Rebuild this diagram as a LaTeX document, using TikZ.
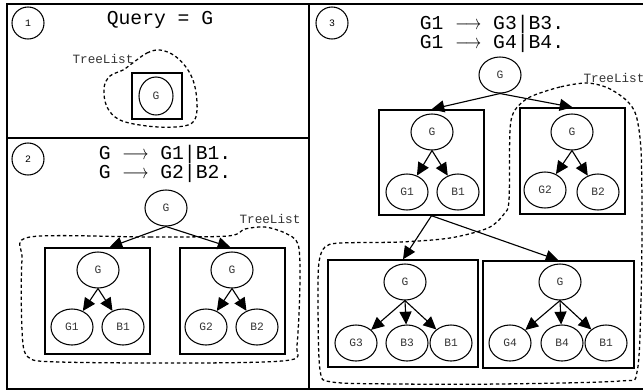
\documentclass[tikz,border=0pt]{standalone}
\usepackage{fontspec}
\setmonofont{Liberation Mono}
\usepackage{graphicx}
\usepackage{tikz}
\usetikzlibrary{shapes.geometric,arrows.meta,positioning,calc}
\newcommand{\yields}{\scalebox{0.8}[1]{$\longrightarrow$}}

\begin{document}
\begin{tikzpicture}[x=0.025cm, y=-0.025cm,
    goal/.style={draw, ellipse, line width=0.75pt, minimum width=1.05cm, minimum height=0.9cm,
        inner sep=0pt, font=\ttfamily\fontsize{8}{8}\selectfont, text=black!80},
    treeBox/.style={draw, line width=1pt, inner sep=0pt},
    stepNum/.style={draw, circle, line width=0.75pt, minimum size=0.8cm, inner sep=0pt,
        font=\ttfamily\fontsize{7}{7}\selectfont},
    ruleText/.style={font=\ttfamily\fontsize{14}{12}\selectfont, align=center},
    derive/.style={-{Triangle[length=0.32cm,width=0.3cm]}, line width=0.8pt},
    treeList/.style={dash pattern=on 2.4pt off 1.9pt, line width=0.9pt},
    listLabel/.style={font=\ttfamily\fontsize{9}{9}\selectfont, text=black!80}]
    \useasboundingbox (0,0) rectangle (643,390);
    \clip (0,0) rectangle (643,390);

    % Frame and panels
    \draw[line width=0.8pt] (660,4) -- (7,4) -- (7,389) -- (660,389);
    \draw[line width=0.8pt] (309,4) -- (309,389);
    \draw[line width=0.8pt] (7,138) -- (309,138);

    % Panel 1: the query
    \node[stepNum] (n1) at (28,23) {1};
    \node[ruleText] (query) at (160,20) {Query = G};
    \node[treeBox, minimum width=1.25cm, minimum height=1.15cm] (box1) at (157,96) {};
    \node[goal, minimum width=0.85cm, minimum height=0.95cm] (g1) at (156,96) {G};
    \node[listLabel] (list1) at (103,59) {TreeList};
    \draw[treeList] plot[smooth cycle, tension=0.6] coordinates {(134,62) (147,53) (160,50)
        (175,56) (188,70) (195,87) (197,110) (192,123) (175,127) (147,126) (120,120)
        (107,107) (104,88) (110,76) (123,70)};

    % Panel 2: G -> G1|B1, G -> G2|B2
    \node[stepNum] (n2) at (28,159) {2};
    \node[ruleText] (rule2) at (165,164) {G \yields{} G1|B1.\\G \yields{} G2|B2.};
    \node[goal] (top2) at (166,208) {G};
    \node[treeBox, minimum width=2.625cm, minimum height=2.65cm] (boxL) at (97.5,301) {};
    \node[treeBox, minimum width=2.625cm, minimum height=2.65cm] (boxR) at (232.5,301) {};
    \node[goal] (gL) at (98,270) {G};
    \node[goal] (gL1) at (72,327) {G1};
    \node[goal] (bL1) at (123,327) {B1};
    \node[goal] (gR) at (232,270) {G};
    \node[goal] (gR2) at (206,327) {G2};
    \node[goal] (bR2) at (257,327) {B2};
    \draw[derive] (top2.south) -- ($(boxL.north)+(12,0)$);
    \draw[derive] (top2.south) -- ($(boxR.north)+(-2,0)$);
    \foreach \p/\c in {gL/gL1, gL/bL1, gR/gR2, gR/bR2}
        \draw[derive] (\p.south) -- (\c);
    \node[listLabel] (list2) at (270,219) {TreeList};
    \draw[treeList] plot[smooth cycle, tension=0.5] coordinates {(30,237) (150,237) (228,236)
        (245,229) (265,227) (285,233) (298,244) (300,280) (297,345) (290,360) (200,363)
        (60,362) (28,357) (22,330) (22,260)};

    % Panel 3: G1 -> G3|B3, G1 -> G4|B4
    \node[stepNum] (n3) at (332,23) {3};
    \node[ruleText] (rule3) at (492,34) {G1 \yields{} G3|B3.\\G1 \yields{} G4|B4.};
    \node[goal] (top3) at (500,75) {G};
    \node[treeBox, minimum width=2.625cm, minimum height=2.625cm] (boxA) at (431.5,162.5) {};
    \node[treeBox, minimum width=2.625cm, minimum height=2.65cm] (boxB) at (572.5,161) {};
    \node[treeBox, minimum width=3.75cm, minimum height=2.675cm] (boxC) at (403,313.5) {};
    \node[treeBox, minimum width=3.775cm, minimum height=2.675cm] (boxD) at (558.5,314.5) {};
    \node[goal] (gA) at (432,132) {G};
    \node[goal] (gA1) at (407,192) {G1};
    \node[goal] (bA1) at (458,192) {B1};
    \node[goal] (gB) at (572,132) {G};
    \node[goal] (gB2) at (545,190) {G2};
    \node[goal] (bB2) at (598,192) {B2};
    \node[goal] (gC) at (405,282) {G};
    \node[goal] (gC3) at (356,343) {G3};
    \node[goal] (bC3) at (407,343) {B3};
    \node[goal] (bC1) at (451,343) {B1};
    \node[goal] (gD) at (560,282) {G};
    \node[goal] (gD4) at (510,343) {G4};
    \node[goal] (bD4) at (562,343) {B4};
    \node[goal] (bD1) at (606,343) {B1};
    \draw[derive] (top3.south) -- (boxA.north);
    \draw[derive] (top3.south) -- (boxB.north);
    \draw[derive] (boxA.south) -- (boxC.north);
    \draw[derive] (boxA.south) -- (boxD.north);
    \foreach \p/\c in {gA/gA1, gA/bA1, gB/gB2, gB/bB2, gC/gC3, gC/bC3, gC/bC1,
        gD/gD4, gD/bD4, gD/bD1}
        \draw[derive] (\p.south) -- (\c);
    \node[listLabel] (list3) at (614,78) {TreeList};
    \draw[treeList] plot[smooth cycle, tension=0.5] coordinates {(587,83) (560,87) (530,97)
        (515,110) (510,130) (509,200) (504,214) (488,228) (450,238) (400,242) (340,243)
        (325,247) (319,262) (318,300) (320,370) (332,382) (400,384) (500,384) (620,381)
        (637,372) (641,300) (642,220) (641,150) (636,115) (626,100) (608,88)};

\end{tikzpicture}
\end{document}
